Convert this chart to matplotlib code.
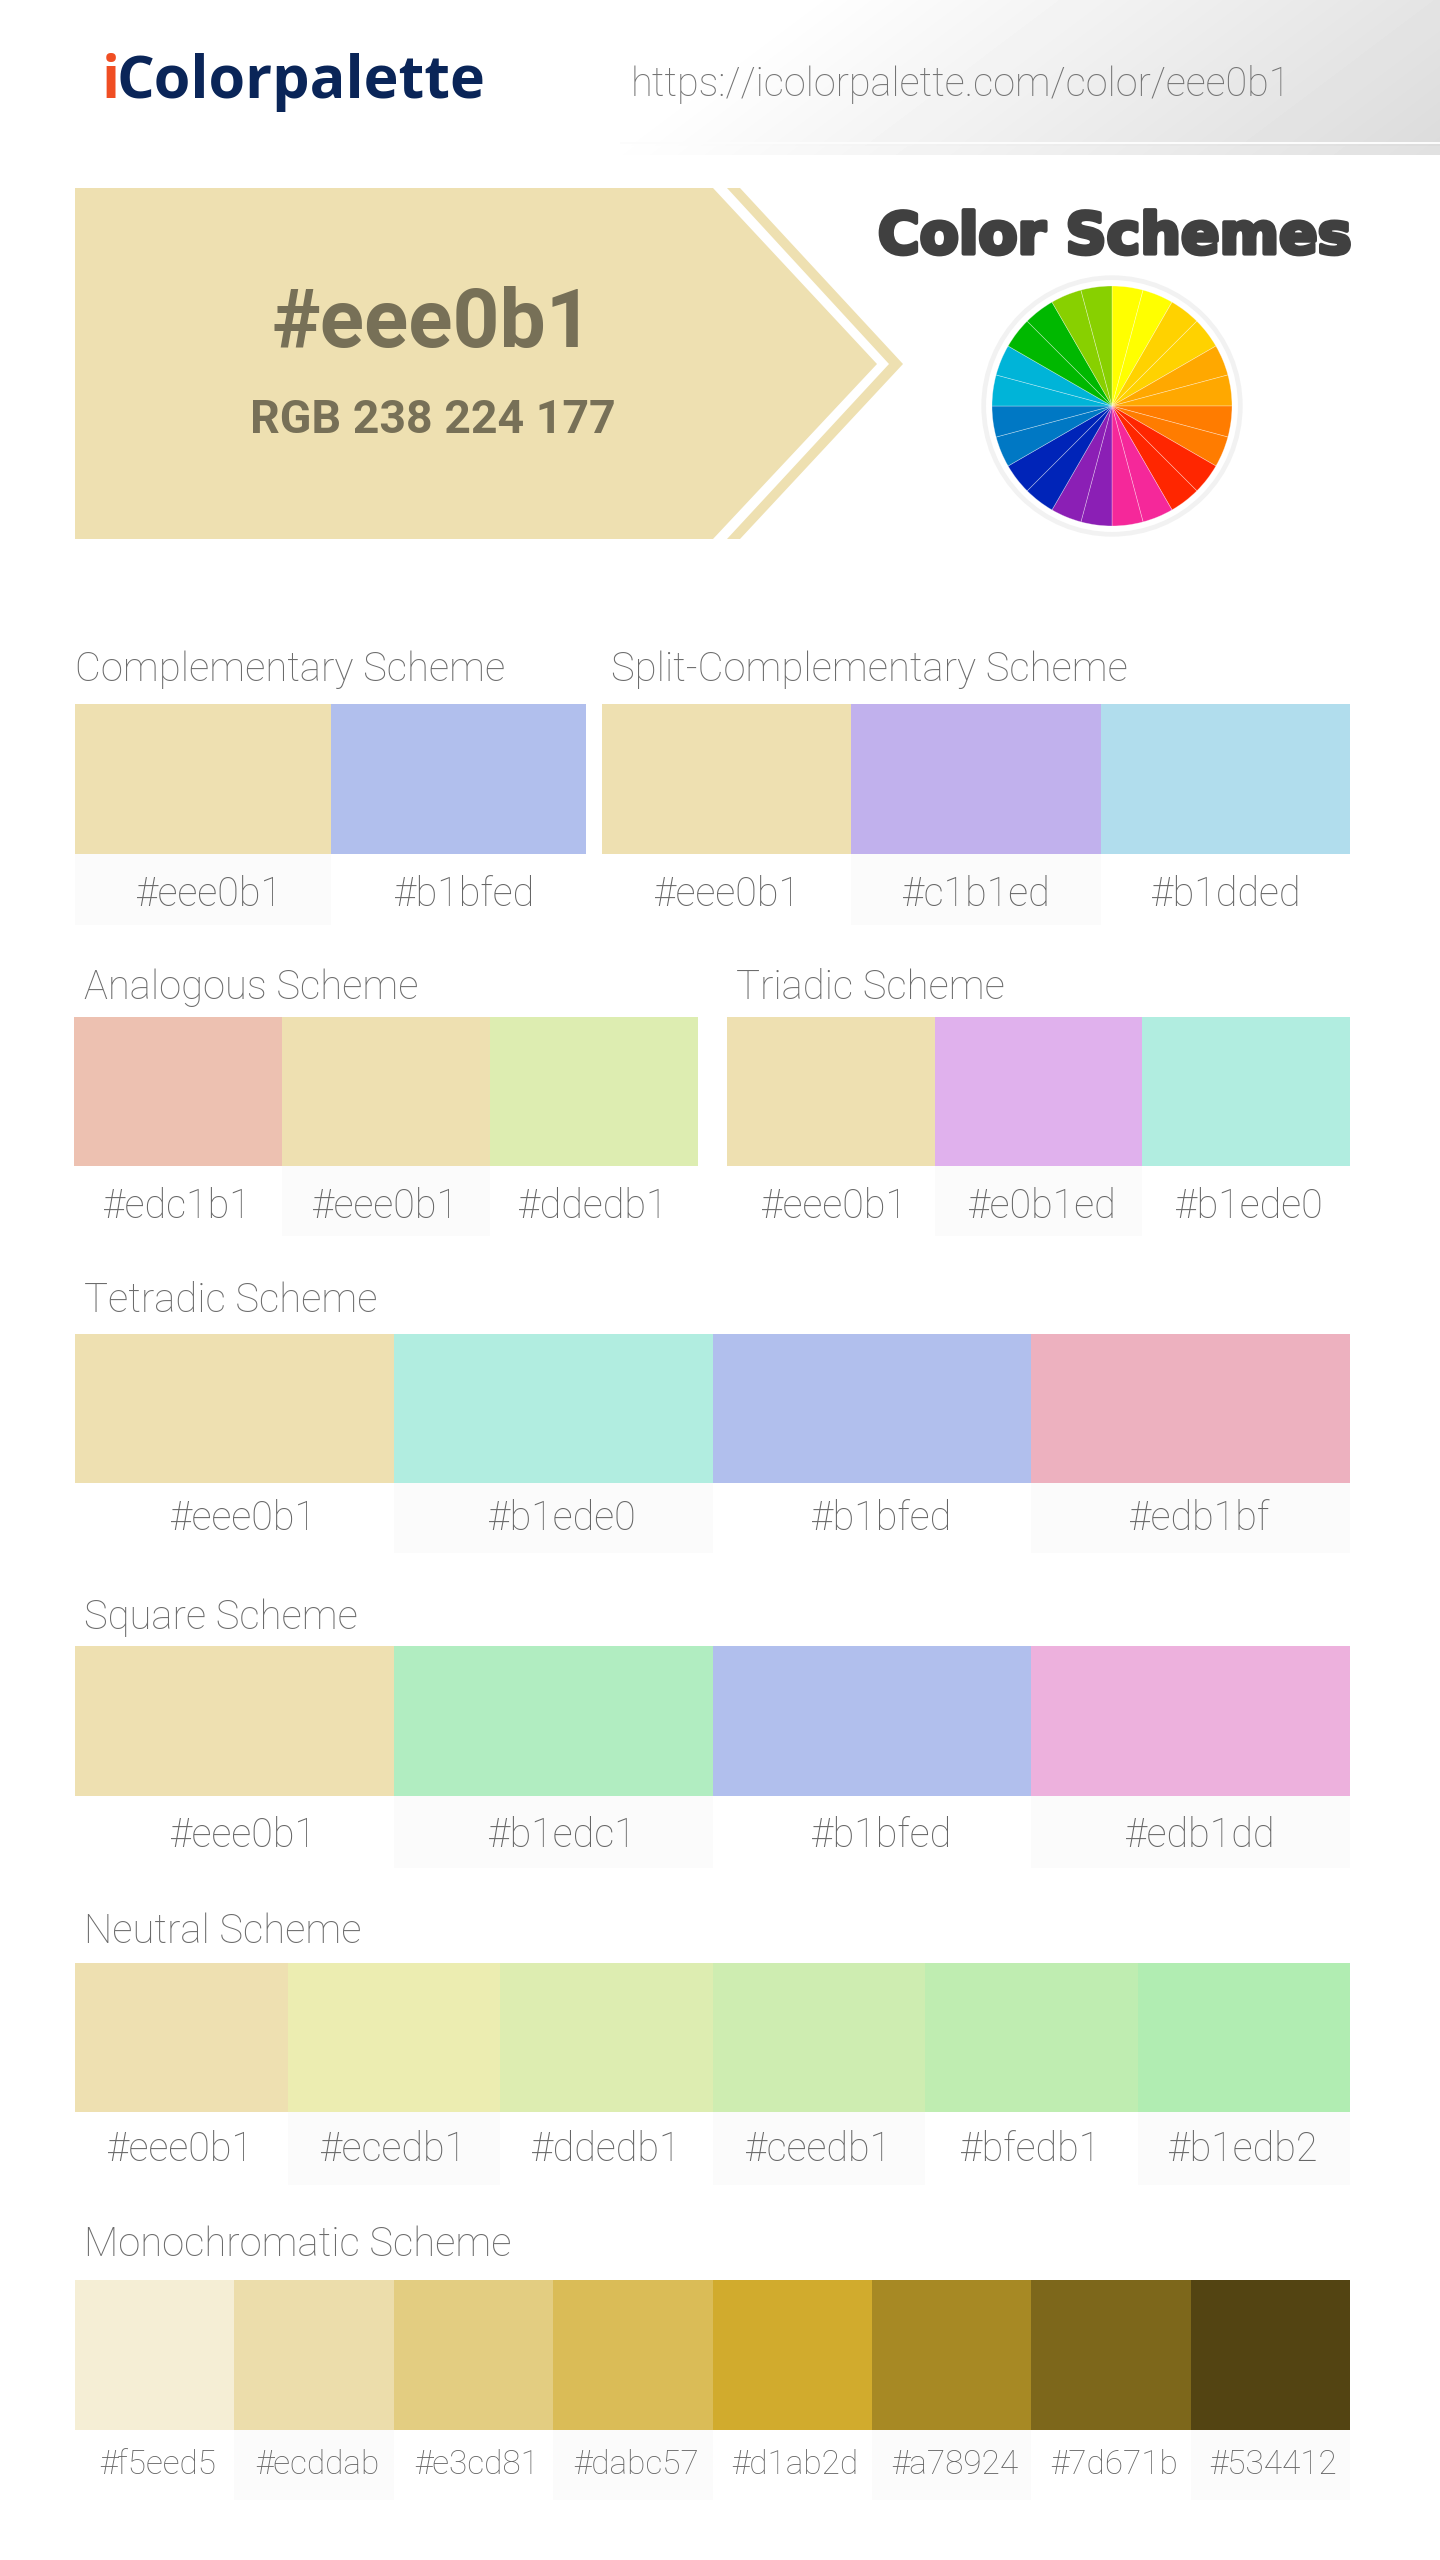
import matplotlib
matplotlib.use("Agg")
import matplotlib.pyplot as plt
import matplotlib.patheffects as pe
import numpy as np

# scheme colours
complementary = ["#eee0b1", "#b1bfed"]
split_complementary = ["#eee0b1", "#c1b1ed", "#b1dded"]
analogous = ["#edc1b1", "#eee0b1", "#ddedb1"]
triadic = ["#eee0b1", "#e0b1ed", "#b1ede0"]
tetradic = ["#eee0b1", "#b1ede0", "#b1bfed", "#edb1bf"]
square = ["#eee0b1", "#b1edc1", "#b1bfed", "#edb1dd"]
neutral = ["#eee0b1", "#ecedb1", "#ddedb1", "#ceedb1", "#bfedb1", "#b1edb2"]
monochromatic = ["#f5eed5", "#ecddab", "#e3cd81", "#dabc57", "#d1ab2d", "#a78924", "#7d671b", "#534412"]

wheel_colors = ["#ffff00", "#ffff00", "#ffd200", "#ffd200", "#ffa800", "#ffa800",
                "#ff7c00", "#ff7c00", "#ff2600", "#ff2600", "#f5289a", "#f5289a",
                "#8b1fb5", "#8b1fb5", "#0024b8", "#0024b8", "#0078c4", "#0078c4",
                "#00b4d8", "#00b4d8", "#00b800", "#00b800", "#88d000", "#88d000"]
wheel_sizes = [1] * 24

W, H = 1440, 2560
GREY = "#666666"
TITLE = "#6c6c6c"


def px(size):
    # font size in pixels to points at dpi 100
    return size * 0.72


fig = plt.figure(figsize=(W / 100, H / 100), dpi=100, facecolor="white")
ax = fig.add_axes([0, 0, 1, 1])

# header gradient
gx, gy = np.meshgrid(np.arange(560, W), np.arange(0, 155))
t = np.clip((gx + 1.33 * gy - 800) / 840, 0, 1)
shade = 1 - 0.14 * t
shade[142:144, 60:] = 0.985
shade[146:, :] = 1 - 0.12 * t[146:, :]
ax.imshow(shade, extent=(560, W, 155, 0), cmap="gray", vmin=0, vmax=1, aspect="auto", zorder=0)
ax.set_xlim(0, W)
ax.set_ylim(H, 0)
ax.axis("off")

# logo and url
ax.text(102, 82, "i", fontsize=px(59.3), family="Open Sans", weight="bold", color="#f04e23", va="center")
ax.text(117, 82, "Colorpalette", fontsize=px(59.3), family="Open Sans", weight="bold", color="#0a2558", va="center")
ax.text(631, 84, "https://icolorpalette.com/color/eee0b1", fontsize=px(39.6), family="Roboto",
        weight="light", color="#747474", va="center")

# hero arrow
hero = "#eee0b1"
ax.fill([75, 713, 877, 713, 75], [188, 188, 364, 539, 539], color=hero, lw=0)
ax.fill([727, 740, 903, 740, 727, 889], [188, 188, 364, 539, 539, 364], color=hero, lw=0)
ax.text(432, 325, "#eee0b1", fontsize=px(82), family="Roboto", weight="bold", color="#777057",
        ha="center", va="center")
ax.text(433, 420, "RGB 238 224 177", fontsize=px(46.5), family="Roboto", weight="bold", color="#777057",
        ha="center", va="center")

ax.text(1115, 238, "Color Schemes", fontsize=px(57), family="DejaVu Sans", weight="bold", color="#404040",
        ha="center", va="center", path_effects=[pe.withStroke(linewidth=3, foreground="#404040")])

# colour wheel
cx, cy, r = 1112, 406, 135
wax = fig.add_axes([(cx - r) / W, 1 - (cy + r) / H, 2 * r / W, 2 * r / H])
wax.pie(wheel_sizes, colors=wheel_colors, startangle=90, counterclock=False, radius=120 / r,
        wedgeprops={"edgecolor": "#ffffff66", "linewidth": 0.5})
wax.add_patch(plt.Circle((0, 0), 128.3 / r, fill=False, ec="#f2f2f2", lw=3.4))
wax.set_xlim(-1, 1)
wax.set_ylim(-1, 1)

# rows: colours, title, title xy, swatch x0, x1, y0, y1, label y, label band end, label size, label offset, band start
rows = [
    (complementary, "Complementary Scheme", 75, 670, 75, 586, 704, 854, 895, 925, 39.5, 6, 0),
    (split_complementary, "Split-Complementary Scheme", 611, 670, 602, 1350, 704, 854, 895, 925, 39.5, 0, 1),
    (analogous, "Analogous Scheme", 84, 988, 74, 698, 1017, 1166, 1207, 1236, 39.5, -1, 1),
    (triadic, "Triadic Scheme", 736, 988, 727, 1350, 1017, 1166, 1207, 1236, 39.5, 3, 1),
    (tetradic, "Tetradic Scheme", 84, 1301, 75, 1350, 1334, 1483, 1519, 1553, 39.5, 9, 1),
    (square, "Square Scheme", 84, 1618, 75, 1350, 1646, 1796, 1836, 1868, 39.5, 9, 1),
    (neutral, "Neutral Scheme", 84, 1932, 75, 1350, 1963, 2112, 2150, 2185, 39.5, -1, 1),
    (monochromatic, "Monochromatic Scheme", 84, 2245, 75, 1350, 2280, 2430, 2465, 2500, 33.4, 3, 1),
]

for colors, title, tx, ty, x0, x1, y0, y1, ly, band, size, off, first in rows:
    n = len(colors)
    w = (x1 - x0) / n
    lefts = [x0 + w * i for i in range(n)]
    ax.text(tx, ty, title, fontsize=px(40), family="Roboto", weight="light", color=TITLE, va="center")
    ax.bar(lefts, y1 - y0, width=w, bottom=y0, align="edge", color=colors, lw=0, zorder=2)
    for i in range(first, n, 2):
        ax.bar(lefts[i], band - y1, width=w, bottom=y1, align="edge", color="#fbfbfb", lw=0, zorder=1)
    for i in range(n):
        ax.text(lefts[i] + w / 2 + off, ly, colors[i], fontsize=px(size), family="Roboto", weight="light",
                color=GREY, ha="center", va="center", zorder=3)

ax.set_xlim(0, W)
ax.set_ylim(H, 0)
fig.savefig("out.png", dpi=100, facecolor="white")
